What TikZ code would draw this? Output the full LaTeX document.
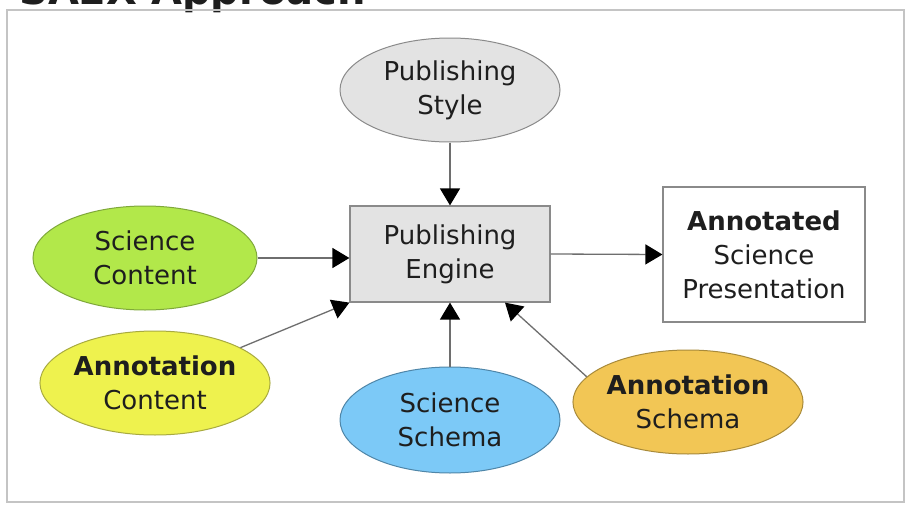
\documentclass[tikz,border=0pt]{standalone}
\usepackage{fontspec}
\setmainfont{DejaVu Sans}
\usetikzlibrary{arrows.meta,shapes.geometric}

\definecolor{txt}{HTML}{1E1E1E}
\definecolor{edge}{HTML}{6E6E6E}
\definecolor{frame}{HTML}{C4C4C4}
\definecolor{greyfill}{HTML}{E3E3E3}
\definecolor{greyline}{HTML}{8A8A8A}
\definecolor{limefill}{HTML}{B2E84A}
\definecolor{limeline}{HTML}{7FA83A}
\definecolor{yelfill}{HTML}{EEF24E}
\definecolor{yelline}{HTML}{A8AA40}
\definecolor{bluefill}{HTML}{7CC9F7}
\definecolor{blueline}{HTML}{4F86A8}
\definecolor{goldfill}{HTML}{F2C655}
\definecolor{goldline}{HTML}{A88A3A}

\tikzset{
  lbl/.style={font=\fontsize{26}{34}\selectfont, text=txt, align=center},
  oval/.style={ellipse, lbl, minimum width=220pt, minimum height=104pt, inner sep=0pt, line width=1pt},
  boxnode/.style={rectangle, lbl, inner sep=0pt, line width=1.2pt},
  link/.style={draw=edge, line width=1.3pt, -{Triangle[length=17pt,width=20pt,fill=black,color=black]}},
  plain/.style={draw=edge, line width=1.3pt}
}

\begin{document}
\begin{tikzpicture}[x=1pt, y=-1pt]
  \useasboundingbox (0,0) rectangle (908,506);
  \fill[white] (0,0) rectangle (908,506);

  % heading, partly above the page edge
  \node[anchor=base west, inner sep=0pt, font=\fontsize{40}{46}\bfseries\selectfont, text=txt]
    (title) at (19,4.5) {SAEX Approach};

  % outer frame
  \draw[frame, line width=2pt] (7,10) rectangle (904,502);

  % nodes
  \node[boxnode, draw=greyline, fill=greyfill, minimum width=200pt, minimum height=96pt]
    (pe) at (450,254) {Publishing\\Engine};
  \node[boxnode, draw=greyline, fill=white, minimum width=202pt, minimum height=135pt]
    (asp) at (764,254.5) {\textbf{Annotated}\\Science\\Presentation};

  \node[oval, draw=greyline, fill=greyfill] (ps) at (450,90) {Publishing\\Style};
  \node[oval, draw=limeline, fill=limefill, minimum width=224pt] (sc) at (145,258) {Science\\Content};
  \node[oval, draw=yelline, fill=yelfill] (ac) at (155,383) {\textbf{Annotation}\\Content};
  \node[oval, draw=blueline, fill=bluefill, minimum height=106pt] (ss) at (450,420) {Science\\Schema};
  \node[oval, draw=goldline, fill=goldfill] (as) at (688,402) {\textbf{Annotation}\\Schema};

  % connectors
  \draw[link] (ps) -- (pe);
  \draw[link] (sc.east) -- (sc.east -| pe.west);
  \draw[link] (ac) -- (pe.south west);
  \draw[link] (ss) -- (pe);
  \draw[link] (as.166) -- ([xshift=55pt]pe.south);
  \draw[link] (pe.east) -- (asp.west);
\end{tikzpicture}
\end{document}
